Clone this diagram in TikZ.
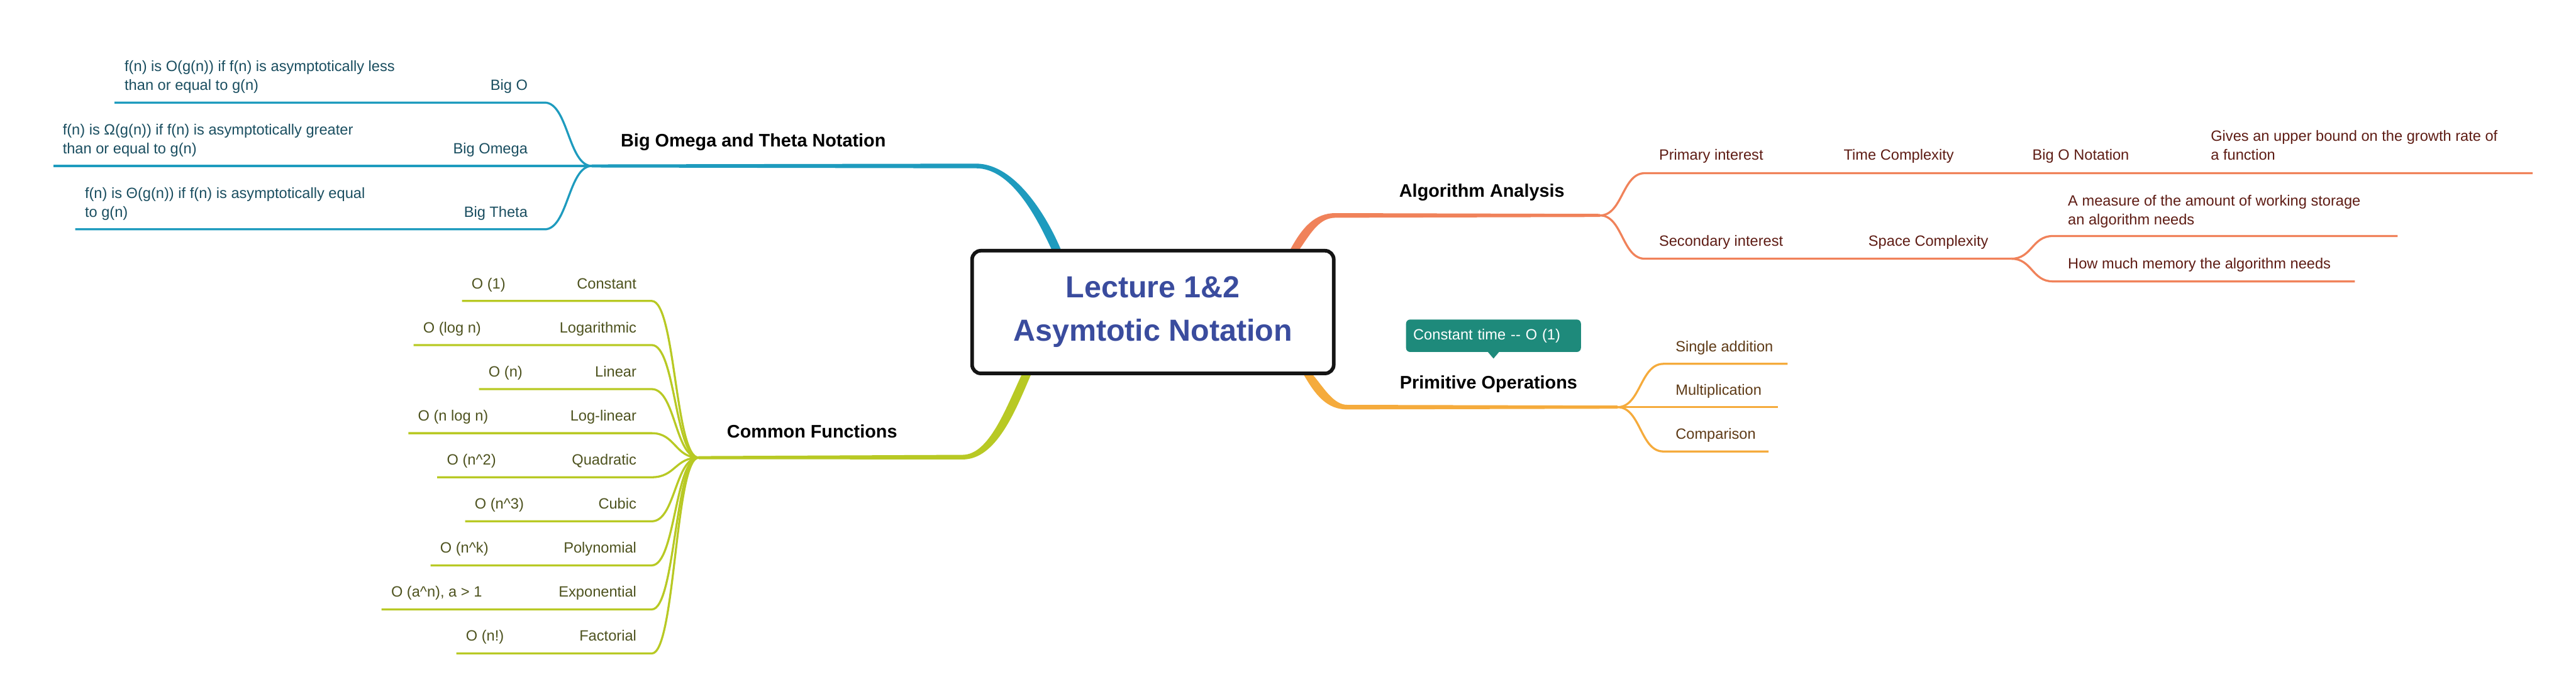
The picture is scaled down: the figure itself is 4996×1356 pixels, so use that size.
\documentclass[tikz,border=0pt]{standalone}
\usepackage{fontspec}
\setmainfont{Liberation Sans}
\usetikzlibrary{calc}
\definecolor{mmInk}{RGB}{20,20,20}
\definecolor{mmTitle}{RGB}{58,76,158}
\definecolor{mmBlue}{RGB}{30,155,190}
\definecolor{mmBlueTxt}{RGB}{26,78,96}
\definecolor{mmGreen}{RGB}{184,201,36}
\definecolor{mmGreenTxt}{RGB}{77,82,30}
\definecolor{mmOrange}{RGB}{240,130,90}
\definecolor{mmOrangeTxt}{RGB}{94,28,20}
\definecolor{mmYellow}{RGB}{245,171,60}
\definecolor{mmYellowTxt}{RGB}{94,58,22}
\definecolor{mmTeal}{RGB}{30,138,123}

\begin{document}
\begin{tikzpicture}[
    x=0.01cm, y=-0.01cm,
    root/.style={draw=mmInk, line width=0.07cm, rounded corners=0.17cm, fill=white,
                 minimum width=7.01cm, minimum height=2.38cm, align=center,
                 text=mmTitle, font=\fontsize{16.8pt}{23.9pt}\selectfont\bfseries},
    topic/.style={inner sep=0, font=\fontsize{10pt}{12pt}\selectfont\bfseries},
    leaf/.style={inner sep=0, align=left, font=\fontsize{8.2pt}{10.5pt}\selectfont},
    ln/.style={line width=0.04cm},
    tipbox/.style={fill=mmTeal, rounded corners=0.08cm, text=white, inner xsep=0.14cm,
                   inner ysep=0, minimum height=0.63cm, text width=3.11cm, align=left,
                   font=\fontsize{8.2pt}{10.5pt}\selectfont}
  ]
  \useasboundingbox (0,0) rectangle (4996,1356);

  % junctions of the four main branches
  \coordinate (jB) at (1148,322);
  \coordinate (jG) at (1355,888);
  \coordinate (jA) at (3103,418);
  \coordinate (jP) at (3137,790);

  % tapered main branches
  \fill[mmBlue] (2039,483) .. controls (2011,423) and (1962,326.5) .. (1893,326.5)
    -- ($(jB)+(0,3)$) -- ($(jB)+(0,-3)$) -- (1893,317.5)
    .. controls (1968,317.5) and (2029,417) .. (2057,483) -- cycle;
  \fill[mmGreen] (1999,728) .. controls (1969,798) and (1932,891.5) .. (1867,891.5)
    -- ($(jG)+(0,3)$) -- ($(jG)+(0,-3)$) -- (1867,882.5)
    .. controls (1918,882.5) and (1951,792) .. (1981,728) -- cycle;
  \fill[mmOrange] (2503,483) .. controls (2526,441) and (2550,413.5) .. (2590,413.5)
    -- ($(jA)+(0,-3)$) -- ($(jA)+(0,3)$) -- (2590,422.5)
    .. controls (2560,422.5) and (2544,449) .. (2521,483) -- cycle;
  \fill[mmYellow] (2529,728) .. controls (2551,766) and (2573,794.5) .. (2613,794.5)
    -- ($(jP)+(0,3)$) -- ($(jP)+(0,-3)$) -- (2613,785.5)
    .. controls (2587,785.5) and (2569,755) .. (2547,728) -- cycle;

  \node[root] (root) at (2236,605.5) {Lecture 1\&2\\Asymtotic Notation};

  % topics
  \node[topic, anchor=base] (bigNot) at (1461,285) {Big Omega and Theta Notation};
  \node[topic, anchor=base] (common) at (1575,850) {Common Functions};
  \node[topic, anchor=base] (algo) at (2874,382) {Algorithm Analysis};
  \node[topic, anchor=base] (prim) at (2887,754) {Primitive Operations};

  % Big Omega and Theta Notation
  \node[leaf, text=mmBlueTxt, anchor=base east] (bigO) at (1024,175) {Big O};
  \node[leaf, text=mmBlueTxt, anchor=base west] (defO) at (241,175)
    {f(n) is O(g(n)) if f(n) is asymptotically less\\than or equal to g(n)};
  \node[leaf, text=mmBlueTxt, anchor=base east] (bigOm) at (1024,298) {Big Omega};
  \node[leaf, text=mmBlueTxt, anchor=base west] (defOm) at (121,298)
    {f(n) is Ω(g(n)) if f(n) is asymptotically greater\\than or equal to g(n)};
  \node[leaf, text=mmBlueTxt, anchor=base east] (bigTh) at (1024,422) {Big Theta};
  \node[leaf, text=mmBlueTxt, anchor=base west] (defTh) at (164,422)
    {f(n) is Θ(g(n)) if f(n) is asymptotically equal\\to g(n)};
  \coordinate (eO) at (1056,199);  \coordinate (sO) at (222,199);
  \coordinate (sOm) at (104,322);
  \coordinate (eTh) at (1056,445); \coordinate (sTh) at (146,445);
  \draw[ln, mmBlue] (jB) .. controls +(-46,0) and +(46,0) .. (eO) -- (sO);
  \draw[ln, mmBlue] (jB) -- (sOm);
  \draw[ln, mmBlue] (jB) .. controls +(-46,0) and +(46,0) .. (eTh) -- (sTh);

  % Common Functions
  \foreach \nm/\ord/\ox [count=\i from 0] in {Constant/O (1)/914, Logarithmic/O (log n)/820,
      Linear/O (n)/947, Log-linear/O (n log n)/810, Quadratic/O (n\textasciicircum2)/866,
      Cubic/O (n\textasciicircum3)/920, Polynomial/O (n\textasciicircum k)/853,
      Exponential/{O (a\textasciicircum n), a > 1}/758, Factorial/O (n!)/903} {
    \pgfmathsetmacro{\ly}{584+85.5*\i}
    \coordinate (cfE\i) at (1264,\ly);
    \coordinate (cfS\i) at (\ox-18,\ly);
    \node[leaf, text=mmGreenTxt, anchor=base east] (cf\i) at (1235,\ly-24) {\nm};
    \node[leaf, text=mmGreenTxt, anchor=base west] (cfo\i) at (\ox,\ly-24) {\ord};
    \draw[ln, mmGreen] (jG) .. controls +(-46,0) and +(46,0) .. (cfE\i) -- (cfS\i);
  }

  % Algorithm Analysis
  \node[leaf, text=mmOrangeTxt, anchor=base west] (primInt) at (3217,311) {Primary interest};
  \node[leaf, text=mmOrangeTxt, anchor=base west] (timeC) at (3575,311) {Time Complexity};
  \node[leaf, text=mmOrangeTxt, anchor=base west] (bigONot) at (3941,311) {Big O Notation};
  \node[leaf, text=mmOrangeTxt, anchor=base west] (upper) at (4287,311)
    {Gives an upper bound on the growth rate of\\a function};
  \node[leaf, text=mmOrangeTxt, anchor=base west] (secInt) at (3217,477) {Secondary interest};
  \node[leaf, text=mmOrangeTxt, anchor=base west] (spaceC) at (3623,477) {Space Complexity};
  \node[leaf, text=mmOrangeTxt, anchor=base west] (storage) at (4010,436)
    {A measure of the amount of working storage\\an algorithm needs};
  \node[leaf, text=mmOrangeTxt, anchor=base west] (memory) at (4010,522)
    {How much memory the algorithm needs};
  \coordinate (eP) at (3190,336); \coordinate (tP) at (4912,336);
  \coordinate (eS) at (3190,502); \coordinate (jS) at (3901,502);
  \coordinate (eM1) at (3981,458); \coordinate (tM1) at (4650,458);
  \coordinate (eM2) at (3981,546); \coordinate (tM2) at (4567,546);
  \draw[ln, mmOrange] (jA) .. controls +(44,0) and +(-44,0) .. (eP) -- (tP);
  \draw[ln, mmOrange] (jA) .. controls +(44,0) and +(-44,0) .. (eS) -- (jS);
  \draw[ln, mmOrange] (jS) .. controls +(40,0) and +(-40,0) .. (eM1) -- (tM1);
  \draw[ln, mmOrange] (jS) .. controls +(40,0) and +(-40,0) .. (eM2) -- (tM2);

  % Primitive Operations
  \node[tipbox] (tip) at (2896.5,651.5) {Constant time -{}- O (1)};
  \fill[mmTeal] ($(tip.south)+(-11,-1)$) -- ($(tip.south)+(0,12)$) -- ($(tip.south)+(11,-1)$) -- cycle;
  \node[leaf, text=mmYellowTxt, anchor=base west] (addOp) at (3249,682) {Single addition};
  \node[leaf, text=mmYellowTxt, anchor=base west] (mulOp) at (3249,766) {Multiplication};
  \node[leaf, text=mmYellowTxt, anchor=base west] (cmpOp) at (3249,852) {Comparison};
  \coordinate (eAdd) at (3226,706); \coordinate (tAdd) at (3467,706);
  \coordinate (tMul) at (3448,790);
  \coordinate (eCmp) at (3226,876); \coordinate (tCmp) at (3430,876);
  \draw[ln, mmYellow] (jP) .. controls +(45,0) and +(-45,0) .. (eAdd) -- (tAdd);
  \draw[ln, mmYellow] (jP) -- (tMul);
  \draw[ln, mmYellow] (jP) .. controls +(45,0) and +(-45,0) .. (eCmp) -- (tCmp);
\end{tikzpicture}
\end{document}
